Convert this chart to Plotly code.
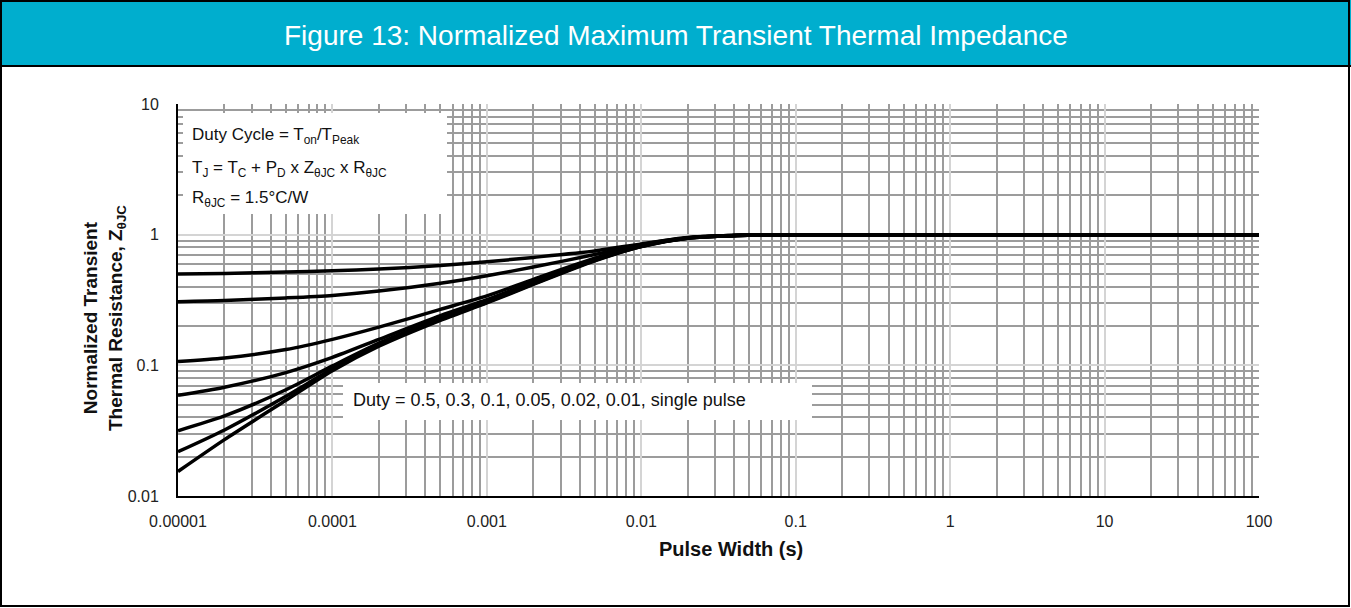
import plotly.graph_objects as go

# ---------------- data ----------------
pulse_width = [1e-5, 2e-5, 5e-5, 1e-4, 2e-4, 5e-4, 1e-3, 2e-3, 5e-3, 1e-2, 2e-2, 5e-2, 1e-1, 2e-1, 1, 10, 100]

z_d05    = [0.500, 0.505, 0.518, 0.530, 0.545, 0.580, 0.620, 0.670, 0.750, 0.850, 0.950, 0.993, 1.0, 1.0, 1.0, 1.0, 1.0]
z_d03    = [0.307, 0.313, 0.328, 0.343, 0.370, 0.425, 0.485, 0.565, 0.705, 0.840, 0.948, 0.992, 1.0, 1.0, 1.0, 1.0, 1.0]
z_d01    = [0.107, 0.114, 0.132, 0.158, 0.196, 0.268, 0.340, 0.455, 0.660, 0.825, 0.945, 0.991, 1.0, 1.0, 1.0, 1.0, 1.0]
z_d005   = [0.059, 0.068, 0.088, 0.115, 0.158, 0.240, 0.318, 0.435, 0.648, 0.820, 0.943, 0.990, 1.0, 1.0, 1.0, 1.0, 1.0]
z_d002   = [0.0316, 0.041, 0.065, 0.099, 0.148, 0.229, 0.307, 0.425, 0.640, 0.815, 0.942, 0.990, 1.0, 1.0, 1.0, 1.0, 1.0]
z_d001   = [0.0218, 0.032, 0.058, 0.094, 0.143, 0.224, 0.303, 0.420, 0.635, 0.810, 0.940, 0.990, 1.0, 1.0, 1.0, 1.0, 1.0]
z_single = [0.0154, 0.027, 0.054, 0.091, 0.140, 0.221, 0.300, 0.416, 0.630, 0.810, 0.940, 0.990, 1.0, 1.0, 1.0, 1.0, 1.0]

series = [("0.5", z_d05), ("0.3", z_d03), ("0.1", z_d01), ("0.05", z_d005),
          ("0.02", z_d002), ("0.01", z_d001), ("single pulse", z_single)]

x_tickvals = [1e-5, 1e-4, 1e-3, 1e-2, 1e-1, 1, 10, 100]
x_ticktext = ["0.00001", "0.0001", "0.001", "0.01", "0.1", "1", "10", "100"]
y_tickvals = [0.01, 0.1, 1, 10]
y_ticktext = ["0.01", "0.1", "1", "10"]

TITLE = "Figure 13: Normalized Maximum Transient Thermal Impedance"
FONT = "Liberation Sans, Arial, sans-serif"

# ---------------- layout helpers (pixel -> paper) ----------------
W, H = 1351, 608
L, R, T, B = 178, 1259, 104, 496


def px(x):
    return (x - L) / (R - L)


def py(y):
    return (B - y) / (B - T)


fig = go.Figure()
for name, z in series:
    fig.add_trace(go.Scatter(x=pulse_width, y=z, mode="lines", name=name,
                             line=dict(color="black", width=3.5, shape="spline", smoothing=0.7),
                             showlegend=False, hoverinfo="x+y+name"))

grid_minor = "#9c9c9c"
grid_major = "#d4d4d4"

fig.update_xaxes(type="log", range=[-5, 2], tickvals=x_tickvals, ticktext=x_ticktext,
                 showgrid=True, gridcolor=grid_major, gridwidth=1.5,
                 minor=dict(dtick="D1", showgrid=True, gridcolor=grid_minor, gridwidth=1.5, ticks=""),
                 showline=True, linecolor="black", linewidth=2, zeroline=False, ticks="",
                 ticklabelstandoff=10,
                 tickfont=dict(family=FONT, size=16, color="#222"))
fig.update_yaxes(type="log", range=[-2, 1], tickvals=y_tickvals, ticktext=y_ticktext,
                 showgrid=True, gridcolor=grid_major, gridwidth=1.5,
                 minor=dict(dtick="D1", showgrid=True, gridcolor=grid_minor, gridwidth=1.5, ticks=""),
                 showline=True, linecolor="black", linewidth=2, zeroline=False, ticks="",
                 ticklabelstandoff=14,
                 tickfont=dict(family=FONT, size=16, color="#222"))

shapes = [
    # title bar
    dict(type="rect", xref="paper", yref="paper", x0=px(0), x1=px(W), y0=py(66), y1=py(0),
         fillcolor="#00AECE", line=dict(width=0), layer="above"),
    dict(type="line", xref="paper", yref="paper", x0=px(0), x1=px(W), y0=py(66), y1=py(66),
         line=dict(color="black", width=2), layer="above"),
    # outer border
    dict(type="rect", xref="paper", yref="paper", x0=px(1), x1=px(W - 2), y0=py(H - 2), y1=py(1),
         line=dict(color="black", width=2), fillcolor="rgba(0,0,0,0)", layer="above"),
    # white info boxes over the grid
    dict(type="rect", xref="paper", yref="paper", x0=px(183), x1=px(447), y0=py(214), y1=py(113),
         fillcolor="white", line=dict(width=0), layer="above"),
    dict(type="rect", xref="paper", yref="paper", x0=px(343), x1=px(812), y0=py(420), y1=py(383),
         fillcolor="white", line=dict(width=0), layer="above"),
]

txt = dict(family=FONT, size=17, color="#111")
annotations = [
    dict(text=TITLE, x=px(676), y=py(35), xref="paper", yref="paper", showarrow=False,
         font=dict(family=FONT, size=28, color="white"), xanchor="center", yanchor="middle"),
    dict(text="Duty Cycle = T<sub>on</sub>/T<sub>Peak</sub>", x=px(190), y=py(136), xref="paper", yref="paper",
         showarrow=False, font=txt, xanchor="left", yanchor="middle"),
    dict(text="T<sub>J</sub> = T<sub>C</sub> + P<sub>D</sub> x Z<sub>θJC</sub> x R<sub>θJC</sub>",
         x=px(190), y=py(169), xref="paper", yref="paper", showarrow=False, font=txt,
         xanchor="left", yanchor="middle"),
    dict(text="R<sub>θJC</sub> = 1.5°C/W", x=px(190), y=py(199), xref="paper", yref="paper",
         showarrow=False, font=txt, xanchor="left", yanchor="middle"),
    dict(text="Duty = " + ", ".join(n for n, _ in series), x=px(351), y=py(400),
         xref="paper", yref="paper", showarrow=False, font=dict(family=FONT, size=18, color="#111"),
         xanchor="left", yanchor="middle"),
    dict(text="<b>Pulse Width (s)</b>", x=px(731), y=py(549), xref="paper", yref="paper",
         showarrow=False, font=dict(family=FONT, size=20, color="#111"), xanchor="center", yanchor="middle"),
    dict(text="<b>Normalized Transient<br>Thermal Resistance, Z<sub>θJC</sub></b>", x=px(104), y=py(318),
         xref="paper", yref="paper", showarrow=False, textangle=-90,
         font=dict(family=FONT, size=19, color="#111"), xanchor="center", yanchor="middle"),
]

fig.update_layout(width=W, height=H, margin=dict(l=L, r=W - R, t=T, b=H - B, pad=0),
                  paper_bgcolor="white", plot_bgcolor="white", showlegend=False,
                  shapes=shapes, annotations=annotations, font=dict(family=FONT))

fig.write_html("out.html")
